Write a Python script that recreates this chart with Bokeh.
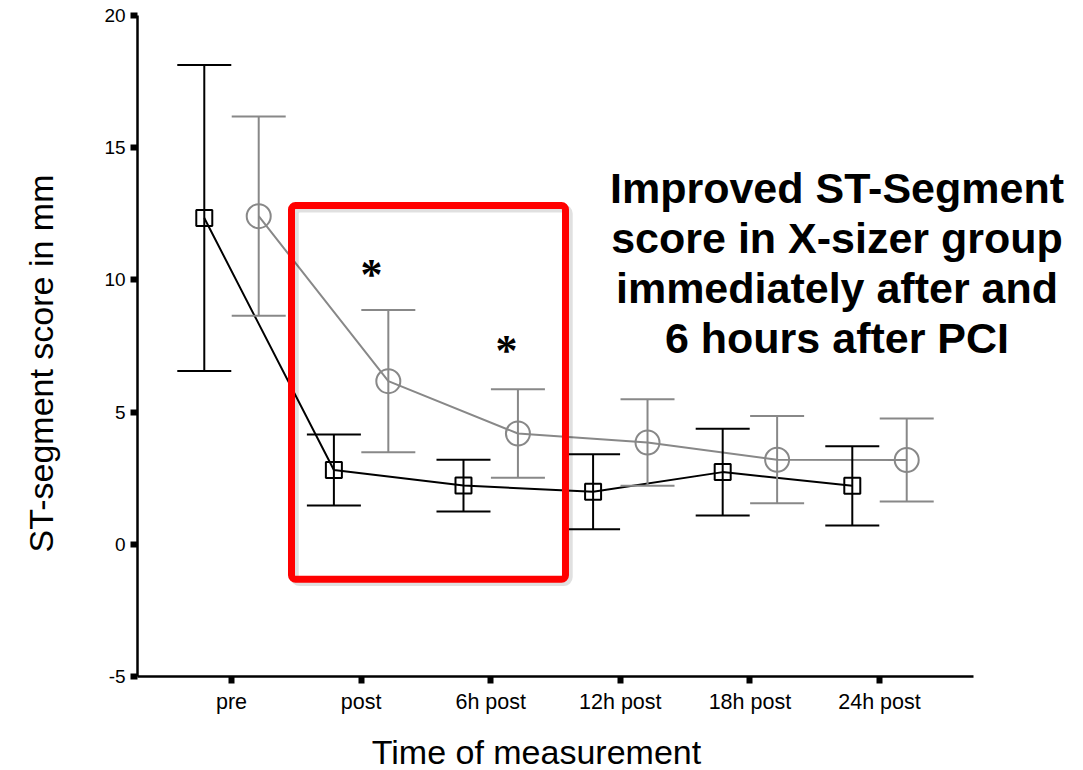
import math

from bokeh.embed import file_html
from bokeh.resources import INLINE
from bokeh.plotting import figure
from bokeh.models import (ColumnDataSource, Range1d, Whisker, TeeHead,
                          Label, BoxAnnotation, FixedTicker)
from bokeh.transform import dodge

# Measurement time points
times = ["pre", "post", "6h post", "12h post", "18h post", "24h post"]

# Control group (black squares): mean and SD of ST-segment score, mm
ctrl_mean = [12.34, 2.81, 2.22, 1.99, 2.73, 2.21]
ctrl_sd = [5.79, 1.34, 0.98, 1.42, 1.64, 1.50]

# X-sizer group (grey circles): mean and SD of ST-segment score, mm
xs_mean = [12.41, 6.17, 4.19, 3.85, 3.20, 3.19]
xs_sd = [3.77, 2.69, 1.67, 1.64, 1.65, 1.57]

y_ticks = [-5, 0, 5, 10, 15, 20]

summary_lines = [
    "Improved ST-Segment",
    "score in X-sizer group",
    "immediately after and",
    "6 hours after PCI",
]

GREY = "#888888"
FONT = "Liberation Sans"

pos = list(range(len(times)))
X_LO, X_HI = -0.725, len(times) - 1 + 0.725   # extent of the category axis
Y_LO, Y_HI = -5, 20                           # extent of the value axis

src = ColumnDataSource(dict(
    xi=pos,
    cm=ctrl_mean,
    cu=[m + s for m, s in zip(ctrl_mean, ctrl_sd)],
    cl=[m - s for m, s in zip(ctrl_mean, ctrl_sd)],
    xm=xs_mean,
    xu=[m + s for m, s in zip(xs_mean, xs_sd)],
    xl=[m - s for m, s in zip(xs_mean, xs_sd)],
))

# The frame fills the whole canvas; the axes sit at fixed data locations
# so that titles and the note can be placed freely around them.
p = figure(
    width=1083, height=770,
    x_range=Range1d(-1.7824, 6.574),
    y_range=Range1d(-8.555, 20.567),
    output_backend="svg", toolbar_location=None,
    min_border=0,
)
p.outline_line_color = None
p.xgrid.grid_line_color = None
p.ygrid.grid_line_color = None
p.background_fill_color = "white"
p.border_fill_color = "white"

for ax in (p.xaxis[0], p.yaxis[0]):
    ax.axis_line_color = "black"
    ax.axis_line_width = 2.5
    ax.major_tick_line_color = "black"
    ax.major_tick_line_width = 6
    ax.major_tick_out = 7
    ax.major_tick_in = 0
    ax.minor_tick_line_color = None
    ax.major_label_text_font = FONT
    ax.major_label_text_color = "black"

p.xaxis.fixed_location = Y_LO
p.xaxis.bounds = (X_LO, X_HI)
p.xaxis.ticker = FixedTicker(ticks=pos)
p.xaxis.major_label_overrides = {i: t for i, t in zip(pos, times)}
p.xaxis.major_label_text_font_size = "21.5px"
p.xaxis.major_label_standoff = 6

p.yaxis.fixed_location = X_LO
p.yaxis.bounds = (Y_LO, Y_HI)
p.yaxis.ticker = FixedTicker(ticks=y_ticks)
p.yaxis.major_label_overrides = {v: str(v) for v in y_ticks}
p.yaxis.major_label_text_font_size = "19px"
p.yaxis.major_label_standoff = 5

ctrl_x = dodge("xi", -0.21)
xs_x = dodge("xi", 0.21)

# Error bars (mean +/- SD)
for base, up, lo, col in ((ctrl_x, "cu", "cl", "black"), (xs_x, "xu", "xl", GREY)):
    p.add_layout(Whisker(
        source=src, base=base, upper=up, lower=lo, dimension="height",
        line_color=col, line_width=2,
        upper_head=TeeHead(size=54, line_color=col, line_width=2),
        lower_head=TeeHead(size=54, line_color=col, line_width=2),
        level="glyph",
    ))

# Mean trajectories
p.line(x=xs_x, y="xm", source=src, line_color=GREY, line_width=2)
p.scatter(x=xs_x, y="xm", source=src, marker="circle", size=24,
          fill_color=None, line_color=GREY, line_width=2)
p.line(x=ctrl_x, y="cm", source=src, line_color="black", line_width=2)
p.scatter(x=ctrl_x, y="cm", source=src, marker="square", size=16,
          fill_color=None, line_color="black", line_width=2)

# Significance markers
for xv, yv in ((1.08, 10.22), (2.122, 7.32)):
    p.add_layout(Label(x=xv, y=yv, text="*", text_font="Liberation Serif",
                       text_font_style="bold", text_font_size="44px",
                       text_align="center", text_baseline="alphabetic",
                       text_color="black"))

# Highlight of the post / 6h post window, with a soft shadow
p.add_layout(BoxAnnotation(left=0.488, right=2.602, top=12.70, bottom=-1.43,
                           fill_color=None, fill_alpha=0, line_color="black",
                           line_alpha=0.12, line_width=8, border_radius=5))
p.add_layout(BoxAnnotation(left=0.463, right=2.577, top=12.81, bottom=-1.32,
                           fill_color=None, fill_alpha=0, line_color="#ff0000",
                           line_alpha=1.0, line_width=7, border_radius=4))

# Summary text
for line, yv in zip(summary_lines, (13.46, 11.58, 9.70, 7.82)):
    p.add_layout(Label(x=4.672, y=yv, text=line, text_font=FONT,
                       text_font_style="bold", text_font_size="43px",
                       text_align="center", text_baseline="alphabetic",
                       text_color="black"))

# Axis titles
p.add_layout(Label(x=2.353, y=-7.86, text="Time of measurement",
                   text_font=FONT, text_font_size="34px",
                   text_align="center", text_baseline="alphabetic",
                   text_color="black"))
p.add_layout(Label(x=-1.47, y=6.84, text="ST-segment score in mm",
                   angle=math.pi / 2, text_font=FONT, text_font_size="34px",
                   text_align="center", text_baseline="middle",
                   text_color="black"))

open("out.html", "w").write(file_html(p, INLINE))
